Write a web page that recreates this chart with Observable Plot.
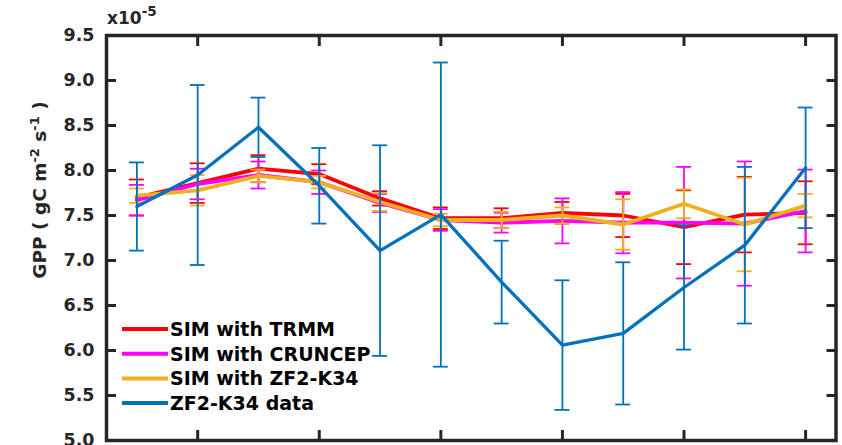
<!DOCTYPE html>
<html><head><meta charset="utf-8">
<script src="https://cdn.jsdelivr.net/npm/d3@7"></script>
<script src="https://cdn.jsdelivr.net/npm/@observablehq/plot@0.6"></script>
<style>
html,body{margin:0;padding:0;background:#fff;overflow:hidden}
</style>
</head><body><div id="chart"></div>
<script>
const months = [1,2,3,4,5,6,7,8,9,10,11,12];

const trmmMean    = [7.70,7.86,8.02,7.96,7.69,7.47,7.47,7.53,7.50,7.37,7.51,7.53];
const trmmErr     = [0.20,0.22,0.15,0.11,0.08,0.12,0.11,0.12,0.24,0.41,0.42,0.35];
const cruncepMean = [7.67,7.85,7.95,7.87,7.64,7.45,7.42,7.44,7.42,7.42,7.41,7.55];
const cruncepErr  = [0.17,0.17,0.15,0.13,0.10,0.12,0.11,0.25,0.34,0.62,0.69,0.46];
const zf2SimMean  = [7.72,7.78,7.94,7.87,7.65,7.45,7.45,7.50,7.40,7.63,7.40,7.61];
const zf2SimErr   = [0.08,0.17,0.07,0.07,0.10,0.07,0.09,0.09,0.28,0.16,0.52,0.13];
const zf2DataMean = [7.60,7.95,8.48,7.83,7.11,7.51,6.76,6.06,6.19,6.70,7.17,8.03];
const zf2DataErr  = [0.49,1.00,0.33,0.42,1.17,1.69,0.46,0.72,0.79,0.69,0.87,0.67];

const seriesNames  = ["SIM with TRMM","SIM with CRUNCEP","SIM with ZF2-K34","ZF2-K34 data"];
const seriesColors = ["#ff0000","#ff00ff","#edb120","#0072bd"];
const yTicks = [5.0,5.5,6.0,6.5,7.0,7.5,8.0,8.5,9.0,9.5];
const xTicks = [2,4,6,8,10,12];

const means = [trmmMean, cruncepMean, zf2SimMean, zf2DataMean];
const errs  = [trmmErr, cruncepErr, zf2SimErr, zf2DataErr];

const FONT = "'DejaVu Sans', sans-serif";
const INK = "#262626";
const capHalf = 0.123; // half cap width in month units

const seriesData = seriesNames.map((name, si) =>
  months.map((m, i) => ({series: name, month: m, mean: means[si][i], err: errs[si][i]}))
);

const seriesMarks = seriesData.flatMap((data, si) => {
  const c = seriesColors[si];
  const lw = si === 3 ? 3.3 : 3.8;
  return [
    Plot.ruleX(data, {x: "month", y1: d => d.mean - d.err, y2: d => d.mean + d.err, stroke: c, strokeWidth: 1.8}),
    Plot.ruleY(data, {y: d => d.mean + d.err, x1: d => d.month - capHalf, x2: d => d.month + capHalf, stroke: c, strokeWidth: 1.8}),
    Plot.ruleY(data, {y: d => d.mean - d.err, x1: d => d.month - capHalf, x2: d => d.month + capHalf, stroke: c, strokeWidth: 1.8}),
    Plot.line(data, {x: "month", y: "mean", stroke: c, strokeWidth: lw, strokeLinejoin: "round"})
  ];
});

const svg = Plot.plot({
  width: 842,
  height: 445,
  marginLeft: 106,
  marginRight: 6.5,
  marginTop: 35,
  marginBottom: 5,
  style: {fontFamily: FONT, background: "#fff", overflow: "hidden"},
  x: {domain: [0.5, 12.5]},
  y: {domain: [5, 9.5]},
  marks: [
    ...seriesMarks,
    Plot.axisY(yTicks, {anchor: "left", tickSize: 0, tickPadding: 12, tickFormat: d3.format(".1f"),
      fontSize: 17.5, fontWeight: "bold", fill: INK, label: null}),
    Plot.axisY(yTicks, {anchor: "left", tickSize: 10, dx: 10, tickFormat: () => "", stroke: INK, strokeWidth: 3, label: null}),
    Plot.axisY(yTicks, {anchor: "right", tickSize: 10, dx: -10, tickFormat: () => "", stroke: INK, strokeWidth: 3, label: null}),
    Plot.axisX(xTicks, {anchor: "top", tickSize: 10, dy: 10, tickFormat: () => "", stroke: INK, strokeWidth: 3, label: null}),
    Plot.axisX(xTicks, {anchor: "bottom", tickSize: 10, dy: -10, tickFormat: () => "", stroke: INK, strokeWidth: 3, label: null}),
    Plot.frame({stroke: INK, strokeWidth: 3.5})
  ]
});

const s = d3.select(svg);

// exponent label
const ex = s.append("text").attr("x", 107).attr("y", 24).attr("text-anchor", "start")
  .attr("font-family", FONT).attr("font-weight", "bold").attr("font-size", 17).attr("fill", INK);
ex.append("tspan").text("x10");
ex.append("tspan").attr("dy", -8).attr("font-size", 13.5).text("-5");

// y axis title
const yl = s.append("text").attr("transform", "translate(46,190) rotate(-90)")
  .attr("text-anchor", "middle")
  .attr("font-family", FONT).attr("font-weight", "bold").attr("font-size", 18.5).attr("fill", INK);
yl.append("tspan").text("GPP ( gC m");
yl.append("tspan").attr("dy", -7).attr("font-size", 13).text("-2");
yl.append("tspan").attr("dy", 7).text(" s");
yl.append("tspan").attr("dy", -7).attr("font-size", 13).text("-1");
yl.append("tspan").attr("dy", 7).text(" )");

// legend
const lg = s.append("g").attr("text-anchor", "start");
seriesNames.forEach((name, i) => {
  const yy = 329 + i * 24.7;
  lg.append("line").attr("x1", 122).attr("x2", 168).attr("y1", yy).attr("y2", yy)
    .attr("stroke", seriesColors[i]).attr("stroke-width", 4);
  lg.append("text").attr("x", 170).attr("y", yy + 7).attr("text-anchor", "start")
    .attr("font-family", FONT).attr("font-weight", "bold").attr("font-size", 19).attr("fill", "#000")
    .text(name);
});

document.getElementById("chart").appendChild(svg);
</script>
</body></html>
